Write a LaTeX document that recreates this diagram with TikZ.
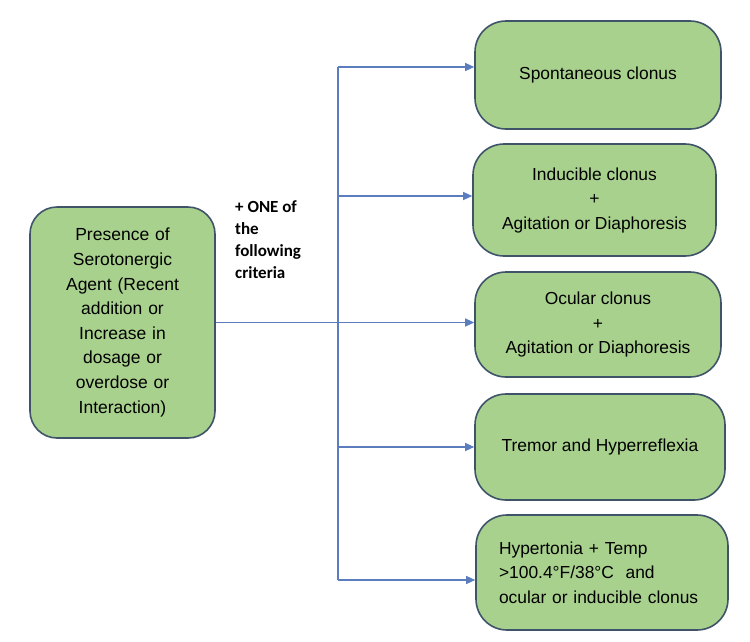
\documentclass[tikz,border=0pt]{standalone}
\usepackage{fontspec}
\setmainfont{Liberation Sans}
\newfontfamily\critfont{Carlito}
\usetikzlibrary{arrows.meta}
\definecolor{boxfill}{HTML}{A9D18E}
\definecolor{boxline}{HTML}{3F5469}
\definecolor{arrline}{HTML}{5B7DBE}
\tikzset{
  gbox/.style={draw=boxline, line width=1.6pt, fill=boxfill, rounded corners=31pt,
    inner sep=0pt, align=center, font=\fontsize{17.4}{24.5}\selectfont},
  conn/.style={draw=arrline, line width=1.2pt},
  arr/.style={conn, -{Triangle[length=9pt,width=8pt]}}
}
\begin{document}
\begin{tikzpicture}[x=1pt,y=-1pt]
\useasboundingbox (0,0) rectangle (750,641);
% left box
\node[gbox, minimum width=185pt, minimum height=231pt, rounded corners=27pt,
  text width=175pt, font=\fontsize{17.5}{24.6}\selectfont] (L) at (122.5,322.5)
  {Presence of\\Serotonergic\\Agent (Recent\\addition or\\Increase in\\dosage or\\overdose or\\Interaction)};
% criteria label
\node[anchor=north west, inner sep=0pt, align=left,
  font=\critfont\bfseries\fontsize{17}{22}\selectfont] (crit) at (235,200)
  {+ ONE of\\the\\following\\criteria};
% right boxes
\node[gbox, minimum width=246pt, minimum height=108pt] (b1) at (598,75) {Spontaneous clonus};
\node[gbox, minimum width=243pt, minimum height=112pt] (b2) at (594.5,200) {Inducible clonus\\+\\Agitation or Diaphoresis};
\node[gbox, minimum width=246pt, minimum height=105pt] (b3) at (598,324.5) {Ocular clonus\\+\\Agitation or Diaphoresis};
\node[gbox, minimum width=250pt, minimum height=106pt] (b4) at (600,447) {Tremor and Hyperreflexia};
\node[gbox, minimum width=252pt, minimum height=115pt, text width=206pt, align=left] (b5) at (602,572.5)
  {Hypertonia + Temp\\>100.4°F/38°C~ and\\ocular or inducible clonus};
% junctions on the vertical trunk
\coordinate (j1) at (338,67);
\coordinate (j2) at (338,196);
\coordinate (j4) at (338,447);
\coordinate (j5) at (338,580);
\draw[conn] (j1) -- (j5);
\draw[arr] (L.east) -- (L.east -| b3.west);
\draw[arr] (j1) -- (j1 -| b1.west);
\draw[arr] (j2) -- (j2 -| b2.west);
\draw[arr] (j4) -- (j4 -| b4.west);
\draw[arr] (j5) -- (j5 -| b5.west);
\end{tikzpicture}
\end{document}
